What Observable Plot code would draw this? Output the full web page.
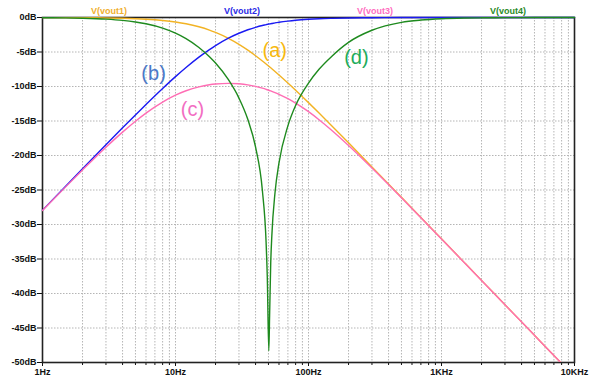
<!DOCTYPE html>
<html><head><meta charset="utf-8">
<script src="https://cdn.jsdelivr.net/npm/d3@7"></script>
<script src="https://cdn.jsdelivr.net/npm/@observablehq/plot@0.6"></script>
<style>html,body{margin:0;padding:0;background:#fff}</style>
</head><body><div id="chart"></div>
<script>
const freqs = [1,1.5,2,3,4,5,6,8,10,12,15,18,20,25,30,35,40,45,48,49,50.3,51,52,53,56,60,70,80,100,120,150,200,300,500,700,1000,1500,2000,3000,5000,7000,10000];
const vout1 = [-0.007,-0.016,-0.028,-0.063,-0.111,-0.172,-0.245,-0.427,-0.65,-0.906,-1.344,-1.826,-2.162,-3.028,-3.894,-4.736,-5.539,-6.3,-6.736,-6.877,-7.059,-7.156,-7.293,-7.428,-7.823,-8.329,-9.495,-10.539,-12.337,-13.844,-15.716,-18.164,-21.649,-26.066,-28.983,-32.079,-35.599,-38.097,-41.619,-46.056,-48.978,-52.076];
const vout2 = [-27.93,-24.42,-21.93,-18.44,-15.99,-14.12,-12.61,-10.29,-8.57,-7.25,-5.75,-4.65,-4.07,-2.99,-2.28,-1.78,-1.42,-1.16,-1.04,-1.0,-0.95,-0.93,-0.9,-0.87,-0.78,-0.69,-0.52,-0.4,-0.26,-0.18,-0.12,-0.07,-0.03,-0.01,-0.005,-0.003,-0.001,-0.001,0,0,0,0];
const vout3 = [-27.97,-24.51,-22.1,-18.8,-16.61,-15.03,-13.85,-12.25,-11.26,-10.62,-10.05,-9.75,-9.64,-9.54,-9.61,-9.77,-9.99,-10.24,-10.41,-10.47,-10.54,-10.58,-10.64,-10.7,-10.88,-11.13,-11.77,-12.41,-13.65,-14.81,-16.37,-18.55,-21.82,-26.13,-29.02,-32.1,-35.61,-38.11,-41.63,-46.06,-48.98,-52.08];
const vout4 = [-0.03,-0.06,-0.11,-0.24,-0.42,-0.65,-0.91,-1.54,-2.27,-3.06,-4.34,-5.68,-6.6,-9.02,-11.68,-14.79,-18.8,-25.08,-32.62,-37.66,-48.3,-43.22,-35.59,-31.65,-25.4,-21.08,-15.7,-12.75,-9.5,-7.5,-5.6,-3.6,-1.85,-0.7,-0.37,-0.18,-0.08,-0.045,-0.02,-0.007,-0.004,-0.002];

const seriesNames = ["V(vout1)","V(vout2)","V(vout3)","V(vout4)"];
const curveTags = ["(a)","(b)","(c)","(d)"];
const tagFreq = [55.7, 6.84, 13.4, 229];
const tagDb = [-4.75, -8.1, -13.3, -5.83];
const xTicks = [1,10,100,1000,10000];
const xTickLabels = ["1Hz","10Hz","100Hz","1KHz","10KHz"];
const yTicks = [0,-5,-10,-15,-20,-25,-30,-35,-40,-45,-50];

const lineColors = ["#f2b324","#1a1af2","#ff6db4","#1e8a1e"];
const legendColors = ["#f0b030","#2a2ae6","#ff6ec0","#2a8a2a"];
const tagColors = ["#f7b90f","#4a78c8","#f26ec2","#22ac5a"];

const series = [vout1, vout2, vout3, vout4];
const minor = [];
for (const d of [1,10,100,1000]) for (let m = 1; m <= 9; m++) minor.push(d*m);
minor.push(10000);
const gridXs = minor.filter(v => v > 1 && v < 10000);
const gridYs = yTicks.filter(v => v < 0 && v > -50);

const lineMarks = series.map((arr, k) =>
  Plot.line(arr.map((v, i) => ({f: freqs[i], db: v})), {
    x: "f", y: "db", stroke: lineColors[k], strokeWidth: 1.4,
    curve: "monotone-x", clip: (k === 0 || k === 2)
  })
);

const chart = Plot.plot({
  width: 600, height: 385,
  marginLeft: 42, marginRight: 26, marginTop: 17, marginBottom: 23,
  x: {type: "log", domain: [1, 10000]},
  y: {domain: [-50, 0]},
  style: {fontFamily: "'Liberation Sans', Arial, sans-serif", background: "#fff", color: "#111"},
  marks: [
    Plot.ruleX(gridXs, {stroke: "#b5b5b5", strokeDasharray: "1.5,1.5", strokeWidth: 1}),
    Plot.ruleY(gridYs, {stroke: "#b5b5b5", strokeDasharray: "1.5,1.5", strokeWidth: 1}),
    Plot.axisX({ticks: minor, tickSize: 3, tickFormat: () => "", label: null}),
    Plot.axisX({ticks: xTicks, tickSize: 4, tickPadding: 2, tickFormat: d => xTickLabels[xTicks.indexOf(d)], fontWeight: "bold", fontSize: 9, label: null}),
    Plot.axisY({ticks: yTicks, tickSize: 5, tickPadding: 1, tickFormat: d => `${d}dB`, fontWeight: "bold", fontSize: 9, label: null}),
    Plot.frame({stroke: "#222", strokeWidth: 1.6}),
    ...lineMarks,
    Plot.text(seriesNames, {x: (d, i) => 10 ** (i + 0.5), y: 0, dy: -6, text: d => d, fill: (d, i) => legendColors[i], fontSize: 9, fontWeight: "bold"}),
    Plot.text(curveTags, {x: (d, i) => tagFreq[i], y: (d, i) => tagDb[i], text: d => d, fill: (d, i) => tagColors[i], fontSize: 20})
  ],
  color: {type: "identity"}
});
document.getElementById("chart").appendChild(chart);
</script>
</body></html>
